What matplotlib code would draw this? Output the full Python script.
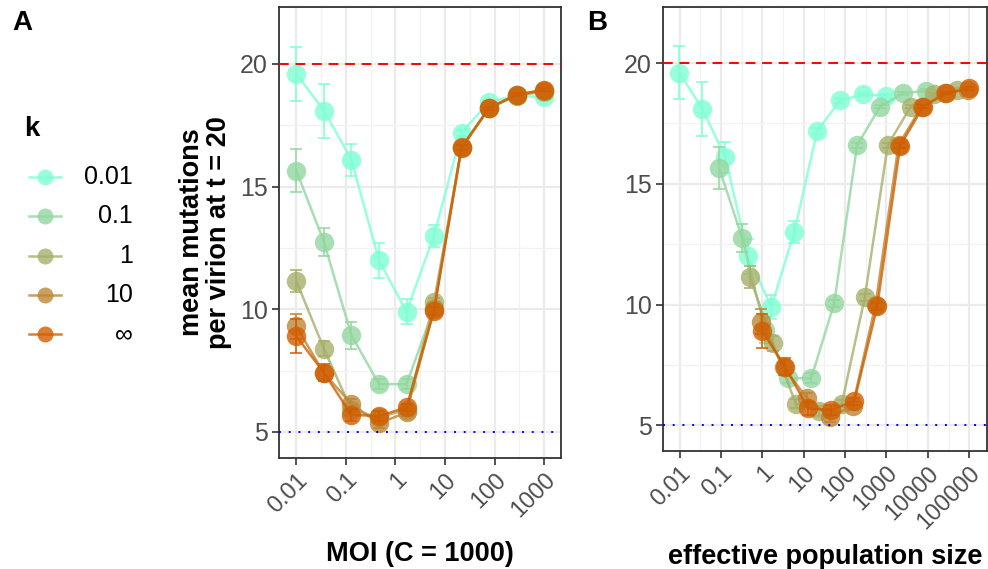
import numpy as np
import matplotlib
matplotlib.use("Agg")
import matplotlib.pyplot as plt
from matplotlib.colors import to_rgb
from matplotlib.ticker import FixedLocator, NullFormatter

# data
k_labels = ["0.01", "0.1", "1", "10", "\u221e"]
moi = [0.01, 0.0359, 0.129, 0.464, 1.67, 5.99, 21.5, 77.4, 278, 1000]
ne_factor = [0.99, 9.1, 50, 91, 100]

mean_mut = [
    [19.6, 18.1, 16.1, 12.0, 9.9, 13.0, 17.2, 18.45, 18.7, 18.65],
    [15.65, 12.75, 8.95, 6.95, 6.95, 10.05, 16.6, 18.2, 18.75, 18.85],
    [11.15, 8.4, 5.9, 5.6, 5.9, 10.3, 16.6, 18.2, 18.7, 18.9],
    [9.3, 7.4, 6.15, 5.35, 5.8, 10.0, 16.6, 18.2, 18.75, 18.9],
    [8.9, 7.42, 5.7, 5.65, 6.0, 9.93, 16.58, 18.2, 18.75, 18.95],
]
err_mut = [
    [1.1, 1.1, 0.65, 0.72, 0.5, 0.45, 0.12, 0.1, 0.08, 0.08],
    [0.88, 0.58, 0.55, 0.2, 0.2, 0.15, 0.1, 0.08, 0.06, 0.06],
    [0.45, 0.3, 0.2, 0.2, 0.15, 0.15, 0.1, 0.06, 0.05, 0.05],
    [0.5, 0.3, 0.2, 0.2, 0.15, 0.15, 0.1, 0.06, 0.05, 0.05],
    [0.7, 0.35, 0.25, 0.2, 0.15, 0.15, 0.1, 0.06, 0.05, 0.05],
]

ticks_a = [0.01, 0.1, 1, 10, 100, 1000]
ticks_b = [0.01, 0.1, 1, 10, 100, 1000, 10000, 100000]
y_ticks = [5, 10, 15, 20]

# colour ramp from aquamarine to dark orange
c0 = np.array(to_rgb("#7FFFD4"))
c1 = np.array(to_rgb("#D15E00"))
colors = [tuple(c0 + (c1 - c0) * t) for t in np.linspace(0, 1, len(k_labels))]
alpha = 0.8

tick_font = ["Liberation Sans", "DejaVu Sans"]
title_size = 19.5

W, H = 988, 569
fig = plt.figure(figsize=(W / 100, H / 100), dpi=100)
axA = fig.add_axes([279 / W, 1 - 458 / H, (561 - 279) / W, (458 - 7) / H])
axB = fig.add_axes([663 / W, 1 - 451 / H, (987 - 663) / W, (451 - 7) / H])


def draw_panel(ax, xs_list, xticks, xlim):
    ax.set_xscale("log")
    ax.set_xlim(*xlim)
    ax.set_ylim(3.94, 22.32)
    for i in range(len(k_labels)):
        ax.errorbar(xs_list[i], mean_mut[i], yerr=err_mut[i], fmt="none",
                    ecolor=colors[i], alpha=alpha, elinewidth=1.4, capsize=4,
                    capthick=1.4, zorder=3 + i)
        ax.plot(xs_list[i], mean_mut[i], color=colors[i], alpha=alpha, lw=1.8,
                marker="o", markersize=14, markeredgewidth=0, zorder=3 + i)
    ax.axhline(20, color="#FF0000", lw=1.4, dashes=(5, 3.5), zorder=10)
    ax.axhline(5, color="#0000FF", lw=1.4, dashes=(1, 4), zorder=10)

    ax.xaxis.set_major_locator(FixedLocator(xticks))
    ax.set_xticklabels([f"{t:g}" for t in xticks], rotation=45, ha="right",
                       rotation_mode="anchor", family=tick_font, fontsize=17,
                       color="#4D4D4D")
    minors = [t * np.sqrt(10) for t in xticks]
    minors = [xticks[0] / np.sqrt(10)] + minors
    ax.xaxis.set_minor_locator(FixedLocator(minors))
    ax.xaxis.set_minor_formatter(NullFormatter())
    ax.set_yticks(y_ticks)
    ax.set_yticklabels([str(t) for t in y_ticks], family=tick_font, fontsize=18,
                       color="#4D4D4D")
    ax.yaxis.set_minor_locator(FixedLocator([7.5, 12.5, 17.5]))
    ax.tick_params(which="major", length=5, width=1.2, color="#333333", pad=3)
    ax.tick_params(which="minor", length=0)
    ax.grid(which="major", color="#EBEBEB", lw=1.6, zorder=0)
    ax.grid(which="minor", color="#F2F2F2", lw=0.9, zorder=0)
    ax.set_axisbelow(True)
    for s in ax.spines.values():
        s.set_color("#333333")
        s.set_linewidth(1.3)


draw_panel(axA, [moi] * len(k_labels), ticks_a, (10 ** -2.35, 10 ** 3.34))
xs_b = [[m * f for m in moi] for f in ne_factor]
draw_panel(axB, xs_b, ticks_b, (10 ** -2.4, 10 ** 5.43))

axA.set_xlabel("MOI (C = 1000)", family=tick_font, fontweight="bold",
               fontsize=title_size, labelpad=14)
axB.set_xlabel("effective population size", family=tick_font,
               fontweight="bold", fontsize=title_size, labelpad=8)
axA.set_ylabel("mean mutations\nper virion at t = 20", family=tick_font,
               fontweight="bold", fontsize=title_size, linespacing=1.05,
               labelpad=6)

fig.text(12 / W, 1 - 30 / H, "A", family=tick_font, fontweight="bold",
         fontsize=20)
fig.text(587 / W, 1 - 30 / H, "B", family=tick_font, fontweight="bold",
         fontsize=20)

# legend drawn by hand so the labels can be right aligned
leg = fig.add_axes([0, 0, 1, 1])
leg.set_xlim(0, W)
leg.set_ylim(H, 0)
leg.axis("off")
leg.text(24, 136, "k", family=tick_font, fontweight="bold", fontsize=20)
for i, lab in enumerate(k_labels):
    y = 177 + 39.3 * i
    leg.plot([29, 61], [y, y], color=colors[i], alpha=alpha, lw=1.8)
    leg.plot([45], [y], "o", color=colors[i], alpha=alpha, markersize=11.5,
             markeredgewidth=0)
    leg.text(133, y, lab, ha="right", va="center", family=tick_font,
             fontsize=18, color="black")

fig.savefig("out.png", dpi=100)
